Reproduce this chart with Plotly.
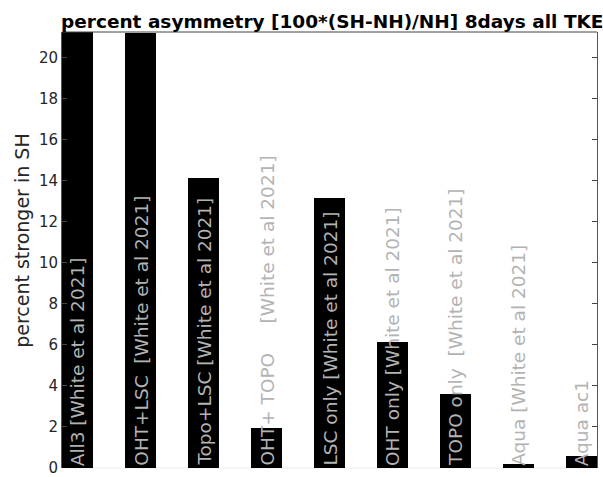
import plotly.graph_objects as go

# Percent asymmetry of TKE between hemispheres for each experiment
NB = "\u00a0"
labels = [
    "All3 [White et al 2021]",
    "OHT+LSC" + NB * 2 + "[White et al 2021]",
    "Topo+LSC [White et al 2021]",
    "OHT+ TOPO" + NB * 5 + "[White et al 2021]",
    "LSC only [White et al 2021]",
    "OHT only [White et al 2021]",
    "TOPO only" + NB * 2 + "[White et al 2021]",
    "Aqua [White et al 2021]",
    "Aqua ac1",
]
asymmetry = [21.24, 21.17, 14.12, 1.97, 13.17, 6.15, 3.60, 0.21, 0.59]
positions = list(range(1, len(asymmetry) + 1))
y_ticks = list(range(0, 22, 2))

font_family = "DejaVu Sans"
label_gray = "#b3b3b3"
axis_gray = "#262626"

fig = go.Figure()
fig.add_trace(go.Bar(
    x=positions, y=asymmetry, width=0.5,
    marker=dict(color="black", line=dict(width=0)),
    showlegend=False, hoverinfo="skip",
))

for xp, txt in zip(positions, labels):
    fig.add_annotation(
        x=xp, y=0, xref="x", yref="y", text=txt, textangle=-90,
        xanchor="center", yanchor="bottom", yshift=0, showarrow=False,
        font=dict(family=font_family, size=18.5, color=label_gray),
    )

# y-axis title, placed as a rotated annotation
fig.add_annotation(
    x=-0.075, y=0.523, xref="paper", yref="paper",
    text="percent stronger in SH", textangle=-90,
    xanchor="center", yanchor="middle", showarrow=False,
    font=dict(family=font_family, size=19, color=axis_gray),
)

fig.update_layout(
    width=603, height=477,
    margin=dict(l=62, r=6, t=32, b=9),
    paper_bgcolor="white", plot_bgcolor="white",
    font=dict(family=font_family, color=axis_gray),
    title=dict(
        text="<b>percent asymmetry [100*(SH-NH)/NH] 8days all TKE</b>",
        x=0.551, xanchor="center", yref="container", y=0.955, yanchor="middle",
        font=dict(family=font_family, size=18.5, color="black"),
    ),
    bargap=0,
    xaxis=dict(
        range=[0.75, 9.25], showticklabels=False, ticks="",
        showgrid=False, zeroline=False, showline=False, automargin=False,
    ),
    yaxis=dict(
        range=[0, 21.24], tickvals=y_ticks, ticktext=[str(v) for v in y_ticks],
        ticks="inside", ticklen=5, tickcolor="#444444",
        showline=True, linecolor="#555555", linewidth=1, mirror="ticks",
        showgrid=False, zeroline=False, automargin=False,
        ticklabeloverflow="allow",
        tickfont=dict(family=font_family, size=15, color=axis_gray),
    ),
    shapes=[
        dict(type="line", xref="paper", yref="paper", x0=0, x1=1, y0=1, y1=1,
             line=dict(color="#444444", width=1)),
        dict(type="line", xref="paper", yref="paper", x0=0, x1=1, y0=0, y1=0,
             line=dict(color="#ebebeb", width=1), layer="below"),
    ],
)

fig.write_html("out.html")
